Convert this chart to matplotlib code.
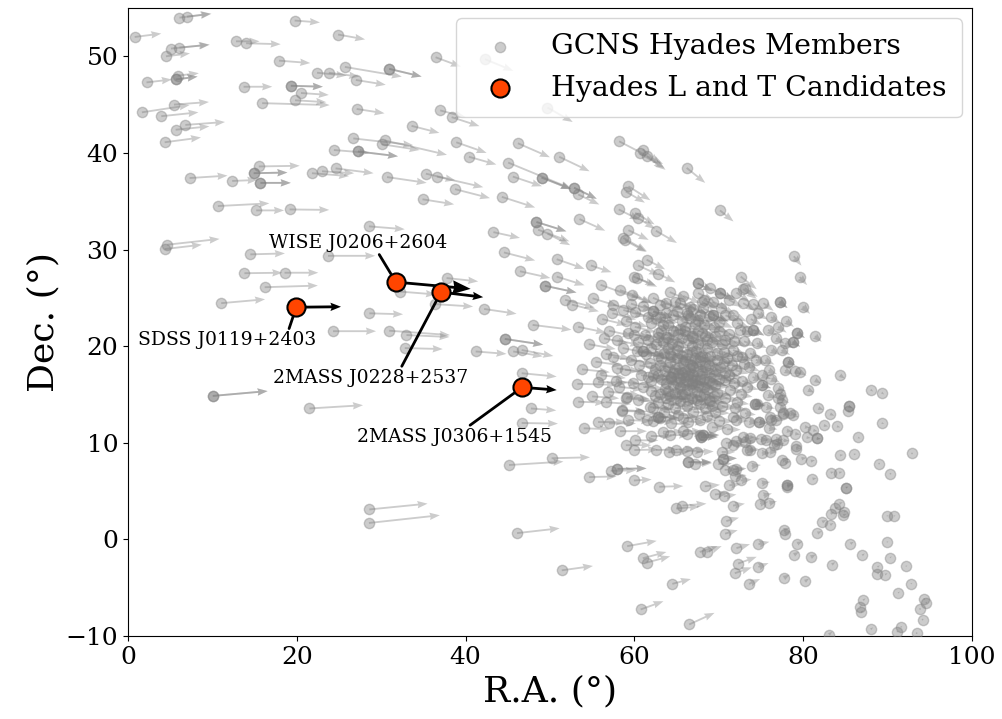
import numpy as np
import matplotlib
matplotlib.use("Agg")
import matplotlib.pyplot as plt

plt.rcParams["font.family"] = ["DejaVu Serif"]

# GCNS Hyades members: (R.A., Dec., dR.A., dDec.) in degrees
members_north = [
    (6.1, 54.0, 3.7, 0.4), (7.0, 54.1, 2.9, 0.3), (19.75, 53.7, 3.0, -0.2), (0.8, 52.0, 3.15, 0.35),
    (24.9, 52.25, 3.2, -0.5), (5.1, 50.8, 4.5, 0.4), (6.1, 50.9, 3.6, 0.3), (12.8, 51.55, 2.8, 0.0),
    (14.0, 51.35, 4.1, -0.1), (4.5, 50.0, 2.85, 0.3), (17.9, 49.55, 3.7, -0.25), (22.4, 48.3, 3.5, -0.3),
    (23.8, 48.3, 3.6, -0.4), (25.7, 48.9, 6.75, -1.0), (2.2, 47.3, 3.0, 0.3), (5.65, 47.6, 2.6, 0.3),
    (5.9, 48.0, 2.5, 0.25), (13.7, 46.85, 3.4, 0.0), (19.3, 46.95, 3.8, -0.1), (20.5, 46.2, 3.3, -0.2),
    (15.9, 45.15, 8.0, -0.2), (19.8, 45.45, 3.7, -0.2), (1.65, 44.2, 5.65, 0.75), (5.45, 45.0, 4.15, 0.27),
    (3.95, 43.8, 4.4, 0.4), (6.8, 42.9, 4.7, 0.3), (5.65, 42.4, 4.0, 0.35), (4.35, 41.1, 4.3, 0.5),
    (26.7, 41.5, 7.1, -0.7), (24.4, 40.3, 4.2, -0.3), (27.25, 40.15, 4.75, -0.5), (15.5, 38.6, 4.85, 0.07),
    (14.9, 37.9, 4.0, 0.07), (15.7, 36.9, 3.6, 0.0), (7.3, 37.4, 4.5, 0.25), (12.35, 37.1, 3.0, 0.1),
    (21.8, 37.9, 4.4, -0.3), (23.0, 38.1, 3.8, -0.2), (24.6, 38.4, 4.5, -0.5), (10.65, 34.5, 6.1, 0.28),
    (15.2, 34.05, 3.3, 0.0), (19.15, 34.15, 4.7, -0.05), (36.45, 49.9, 3.0, -0.97), (42.3, 49.7, 3.35, -1.2),
    (49.7, 44.7, 3.0, -1.5), (30.95, 48.7, 3.85, -0.8), (27.0, 47.55, 3.55, -0.5), (27.1, 44.55, 3.3, -0.45),
    (37.0, 44.4, 3.0, -0.7), (38.35, 43.7, 3.3, -0.93), (33.6, 42.8, 3.3, -0.73), (30.4, 41.3, 7.4, -1.5),
    (30.05, 40.9, 4.5, -0.6), (38.9, 41.1, 3.6, -1.1), (40.4, 39.6, 3.25, -0.8), (46.2, 41.0, 3.8, -1.45),
    (51.1, 39.6, 3.6, -1.5), (45.05, 39.0, 7.5, -2.7), (45.6, 37.55, 3.45, -1.0), (49.0, 37.45, 3.5, -1.2),
    (52.85, 36.4, 2.7, -1.15), (35.3, 37.85, 3.5, -0.7), (36.6, 37.55, 5.5, -1.1), (30.7, 37.5, 4.7, -0.6),
    (38.75, 36.25, 4.15, -0.93), (34.9, 35.2, 3.75, -0.52), (44.3, 35.45, 3.95, -1.1), (4.65, 30.5, 6.2, 0.6),
    (4.35, 30.05, 4.4, 0.45), (28.55, 32.4, 4.25, -0.3), (43.3, 31.8, 3.15, -0.6), (48.4, 32.85, 3.55, -0.97),
    (48.6, 32.05, 3.7, -1.2), (49.7, 31.65, 2.7, -1.2), (53.5, 33.15, 3.05, -1.2), (53.35, 35.7, 2.5, -1.04),
]

members_mid = [
    (14.5, 29.5, 4.1, 0.1), (23.7, 29.35, 5.6, 0.0), (13.8, 27.55, 4.5, 0.05), (18.55, 27.6, 4.0, 0.0),
    (16.2, 26.1, 6.3, 0.17), (11.05, 24.45, 5.2, 0.4), (24.3, 21.55, 5.1, 0.0), (10.05, 14.85, 6.5, 0.5),
    (21.5, 13.55, 6.35, 0.34), (32.2, 25.65, 4.3, -0.3), (37.75, 27.05, 3.75, -0.35), (36.4, 24.35, 4.5, -0.25),
    (42.2, 23.85, 3.85, -0.5), (28.6, 23.4, 4.0, -0.1), (30.95, 21.6, 7.2, -0.45), (33.0, 21.15, 5.1, -0.2),
    (32.8, 19.8, 4.5, -0.1), (44.65, 20.75, 4.55, -0.6), (41.2, 19.45, 3.65, -0.25), (45.65, 19.45, 3.5, -0.5),
    (46.65, 19.6, 3.75, -0.62), (46.65, 17.2, 4.15, -0.35), (47.75, 13.55, 3.0, -0.2), (46.65, 12.05, 4.3, -0.07),
    (44.55, 29.7, 3.7, -0.83), (46.45, 27.75, 3.6, -0.7), (49.4, 26.25, 3.75, -0.7), (50.8, 29.0, 3.3, -1.0),
    (50.8, 27.2, 3.3, -0.9), (51.8, 24.8, 3.5, -0.8), (52.6, 24.3, 3.2, -0.7), (47.95, 22.2, 4.6, -0.5),
    (53.35, 22.0, 3.3, -0.6), (53.35, 14.25, 3.2, -0.1), (28.6, 3.1, 6.9, 0.6), (28.55, 1.7, 8.4, 0.8),
    (45.15, 7.7, 6.45, 0.35), (50.2, 8.4, 4.55, 0.1), (46.1, 0.65, 5.05, 0.5), (51.4, -3.2, 3.7, 0.45),
]

members_upper = [
    (58.2, 41.2, 5.2, -2.35), (61.0, 40.35, 2.0, -1.4), (60.65, 39.95, 2.9, -1.5), (61.5, 39.65, 2.2, -1.4),
    (66.2, 38.45, 2.2, -1.55), (59.3, 36.55, 2.6, -1.45), (59.0, 36.0, 2.25, -1.15), (70.15, 34.05, 1.6, -1.15),
    (58.15, 34.15, 2.5, -1.1), (60.1, 33.8, 2.3, -1.2), (60.45, 33.25, 2.0, -1.1), (62.55, 31.95, 2.5, -1.27),
    (59.3, 32.0, 2.4, -1.0), (58.7, 31.2, 2.8, -1.4), (58.9, 30.95, 2.5, -1.2), (78.9, 29.3, 0.9, -0.97),
    (79.6, 27.15, 0.87, -0.83), (79.95, 24.1, 0.87, -0.76), (81.4, 21.05, 0.8, -0.6), (77.2, 24.6, 0.95, -0.65),
    (72.6, 27.2, 1.9, -1.3), (72.9, 25.9, 1.6, -1.0), (72.1, 25.55, 1.6, -1.0), (54.85, 28.35, 2.45, -0.7),
    (61.45, 28.95, 2.2, -1.0), (60.45, 28.35, 2.5, -1.0), (62.85, 27.5, 2.0, -0.9), (59.9, 27.2, 2.6, -0.9),
    (60.3, 27.05, 2.4, -0.9), (56.0, 26.35, 6.0, -1.9), (58.3, 25.8, 2.6, -0.8), (59.7, 25.3, 2.4, -0.8),
    (55.05, 24.95, 3.0, -0.8), (67.5, 26.5, 1.8, -0.8), (70.15, 25.55, 1.7, -0.8), (67.55, 25.5, 1.9, -0.8),
    (73.1, 26.0, 1.5, -0.9),
]

members_cluster = [
    (57.5, 24.3, 2.8, -0.7), (58.7, 23.75, 2.6, -0.7), (60.05, 23.5, 2.5, -0.7), (62.25, 23.6, 2.3, -0.7),
    (63.75, 24.45, 2.2, -0.7), (65.4, 24.45, 2.0, -0.7), (66.6, 24.1, 2.0, -0.7), (68.15, 23.9, 1.8, -0.7),
    (64.6, 23.25, 2.1, -0.6), (66.6, 22.9, 2.0, -0.6), (67.6, 22.7, 1.9, -0.6), (59.3, 21.35, 2.6, -0.5),
    (60.05, 22.0, 2.5, -0.55), (62.85, 20.9, 2.3, -0.5), (64.0, 20.8, 2.2, -0.5), (61.05, 19.45, 2.5, -0.4),
    (60.3, 19.45, 2.5, -0.4), (57.5, 18.85, 2.9, -0.4), (58.9, 17.55, 2.7, -0.3), (57.9, 17.7, 2.8, -0.3),
    (62.25, 17.0, 2.4, -0.3), (64.4, 16.85, 2.2, -0.3), (61.05, 15.8, 2.5, -0.25), (59.1, 14.75, 2.7, -0.2),
    (60.45, 14.4, 2.6, -0.2), (61.85, 13.7, 2.5, -0.15), (58.5, 13.4, 2.8, -0.15), (59.3, 12.35, 2.7, -0.1),
    (66.2, 10.95, 2.1, 0.0), (67.75, 10.8, 2.0, 0.0), (75.3, 24.45, 1.2, -0.8), (74.1, 24.4, 1.3, -0.8),
    (72.9, 24.45, 1.5, -0.8), (69.35, 24.6, 1.8, -0.8), (68.2, 24.8, 1.9, -0.8), (69.35, 23.25, 1.8, -0.7),
    (71.7, 23.25, 1.6, -0.7), (74.1, 21.7, 1.3, -0.6), (75.85, 21.7, 1.1, -0.6), (77.05, 22.0, 1.0, -0.6),
    (72.5, 21.7, 1.5, -0.6), (70.75, 20.65, 1.6, -0.5), (76.25, 19.6, 1.0, -0.5), (75.5, 18.55, 1.1, -0.45),
    (75.9, 17.5, 1.0, -0.4), (75.1, 17.0, 1.1, -0.4), (76.25, 16.65, 1.0, -0.4), (73.7, 19.25, 1.3, -0.5),
    (72.7, 18.9, 1.4, -0.45), (71.7, 19.6, 1.5, -0.5), (75.1, 16.0, 1.1, -0.35), (77.05, 15.65, 0.9, -0.3),
    (75.85, 14.95, 1.0, -0.3), (74.3, 14.05, 1.2, -0.25), (76.05, 12.7, 1.0, -0.15), (73.1, 13.05, 1.3, -0.15),
    (72.1, 12.35, 1.4, -0.1), (72.9, 10.6, 1.3, -0.05), (75.65, 10.25, 1.0, -0.05), (76.85, 9.9, 0.9, 0.0),
    (68.15, 10.8, 1.9, 0.0), (71.7, 9.75, 1.5, 0.0),
]

# the dense core, where single stars cannot be told apart (hand-placed estimate)
members_core = [
    (63.0, 23.0, 2.2, -0.6), (65.0, 23.6, 2.1, -0.65), (67.0, 23.8, 1.9, -0.65), (68.8, 23.1, 1.8, -0.6),
    (70.3, 24.0, 1.7, -0.7), (62.0, 22.4, 2.3, -0.6), (64.0, 22.2, 2.2, -0.6), (66.0, 22.0, 2.0, -0.55),
    (68.3, 22.2, 1.8, -0.55), (70.0, 22.5, 1.7, -0.6), (61.3, 21.2, 2.4, -0.5), (63.2, 21.6, 2.2, -0.5),
    (65.2, 21.3, 2.1, -0.5), (66.8, 21.0, 2.0, -0.5), (68.0, 21.4, 1.9, -0.5), (69.6, 21.0, 1.7, -0.5),
    (71.2, 21.3, 1.6, -0.55), (73.0, 20.5, 1.4, -0.5), (64.5, 20.3, 2.1, -0.45), (67.5, 20.2, 1.9, -0.45),
    (62.0, 19.8, 2.3, -0.45), (63.5, 19.3, 2.2, -0.4), (65.0, 19.6, 2.1, -0.4), (66.2, 19.2, 2.0, -0.4),
    (67.3, 19.5, 1.9, -0.4), (68.6, 19.8, 1.8, -0.45), (69.8, 19.3, 1.7, -0.4), (71.0, 18.8, 1.6, -0.4),
    (74.5, 20.3, 1.2, -0.5), (66.0, 18.6, 2.0, -0.35), (61.8, 18.3, 2.4, -0.35), (63.0, 18.0, 2.3, -0.35),
    (64.2, 18.4, 2.2, -0.35), (65.3, 17.8, 2.1, -0.35), (66.8, 18.0, 2.0, -0.35), (67.8, 18.5, 1.9, -0.35),
    (68.9, 18.0, 1.8, -0.35), (70.2, 17.8, 1.7, -0.35), (72.0, 17.5, 1.5, -0.35), (73.6, 17.8, 1.3, -0.4),
    (60.8, 17.0, 2.5, -0.3), (63.2, 16.6, 2.3, -0.3), (65.8, 16.8, 2.1, -0.3), (67.0, 17.0, 2.0, -0.3),
    (68.2, 16.6, 1.9, -0.3), (69.4, 17.0, 1.8, -0.3), (70.8, 16.5, 1.6, -0.3), (72.8, 16.4, 1.4, -0.3),
    (74.0, 16.8, 1.3, -0.35), (65.0, 16.2, 2.1, -0.3), (62.0, 15.4, 2.4, -0.25), (63.6, 15.6, 2.3, -0.25),
    (64.8, 15.2, 2.2, -0.25), (66.2, 15.6, 2.0, -0.25), (67.4, 15.3, 1.9, -0.25), (68.6, 15.6, 1.8, -0.25),
    (69.8, 15.2, 1.7, -0.25), (71.3, 15.5, 1.6, -0.25), (72.6, 15.0, 1.4, -0.25), (66.8, 14.6, 2.0, -0.2),
    (62.8, 14.2, 2.4, -0.2), (64.0, 14.0, 2.3, -0.2), (65.4, 14.3, 2.1, -0.2), (67.8, 14.0, 1.9, -0.2),
    (69.0, 14.3, 1.8, -0.2), (70.4, 13.8, 1.7, -0.2), (63.5, 13.2, 2.3, -0.15), (65.2, 12.9, 2.2, -0.15),
    (67.0, 13.2, 2.0, -0.15), (68.6, 12.8, 1.9, -0.1), (70.0, 12.3, 1.7, -0.1), (64.4, 12.0, 2.3, -0.1),
    (66.3, 12.2, 2.1, -0.1), (69.2, 11.6, 1.8, -0.05), (71.0, 11.4, 1.6, -0.05), (63.0, 24.3, 2.2, -0.7),
    (65.8, 25.2, 2.0, -0.75), (64.2, 25.6, 2.1, -0.8), (62.2, 25.0, 2.3, -0.8), (69.0, 26.0, 1.8, -0.8),
    (71.2, 24.8, 1.6, -0.75), (61.0, 24.2, 2.4, -0.75), (59.0, 22.6, 2.6, -0.6), (60.4, 20.4, 2.5, -0.5),
    (59.6, 18.6, 2.6, -0.4), (59.8, 16.2, 2.6, -0.3), (58.2, 15.8, 2.8, -0.3), (60.6, 13.0, 2.6, -0.15),
    (56.4, 20.8, 2.9, -0.5), (55.4, 18.4, 3.1, -0.4), (56.2, 22.8, 2.9, -0.6), (54.6, 20.2, 3.2, -0.5),
    (53.8, 17.6, 3.3, -0.3), (56.6, 14.2, 3.0, -0.2), (55.0, 14.8, 3.2, -0.2), (73.8, 22.8, 1.3, -0.6),
    (74.6, 23.4, 1.2, -0.65), (76.2, 23.0, 1.1, -0.6), (76.8, 20.8, 1.0, -0.55), (78.0, 22.6, 0.9, -0.6),
    (65.6, 20.8, 2.1, -0.5), (67.0, 17.8, 2.0, -0.35), (68.0, 17.2, 1.9, -0.3), (66.4, 16.4, 2.0, -0.3),
    (67.6, 16.0, 1.9, -0.3), (64.6, 17.2, 2.2, -0.3), (69.2, 16.2, 1.8, -0.3), (66.0, 17.4, 2.0, -0.3),
    (68.0, 19.0, 1.9, -0.4), (65.0, 18.8, 2.1, -0.4),
    (62.6, 22.9, 2.3, -0.6), (63.8, 23.4, 2.2, -0.65), (65.6, 22.6, 2.1, -0.6), (67.2, 22.3, 1.9, -0.6),
    (69.4, 22.0, 1.7, -0.55), (61.6, 20.6, 2.4, -0.5), (62.6, 20.2, 2.3, -0.5), (63.8, 20.9, 2.2, -0.5),
    (65.2, 20.0, 2.1, -0.45), (66.4, 20.6, 2.0, -0.5), (68.6, 20.6, 1.8, -0.5), (70.4, 20.2, 1.7, -0.45),
    (71.8, 20.5, 1.5, -0.5), (62.8, 19.0, 2.3, -0.4), (64.2, 19.2, 2.2, -0.4), (65.6, 19.0, 2.1, -0.4),
    (66.8, 19.4, 2.0, -0.4), (67.8, 18.9, 1.9, -0.4), (69.0, 19.0, 1.8, -0.4), (70.6, 19.4, 1.6, -0.45),
    (72.2, 19.0, 1.5, -0.45), (62.4, 17.6, 2.3, -0.35), (63.6, 17.4, 2.2, -0.35), (64.8, 17.6, 2.1, -0.35),
    (65.6, 17.2, 2.1, -0.3), (66.6, 17.6, 2.0, -0.35), (68.4, 17.8, 1.9, -0.35), (69.6, 17.6, 1.7, -0.35),
    (70.8, 17.2, 1.6, -0.3), (71.6, 18.0, 1.5, -0.35), (62.0, 16.4, 2.4, -0.3), (63.8, 16.2, 2.2, -0.3),
    (64.4, 16.6, 2.2, -0.3), (65.4, 15.8, 2.1, -0.25), (66.8, 16.2, 2.0, -0.3), (67.8, 16.6, 1.9, -0.3),
    (68.8, 16.4, 1.8, -0.3), (70.0, 16.6, 1.7, -0.3), (71.8, 16.2, 1.5, -0.3), (63.0, 15.0, 2.3, -0.25),
    (64.2, 14.8, 2.2, -0.2), (65.6, 15.0, 2.1, -0.25), (67.0, 15.8, 2.0, -0.25), (68.2, 15.0, 1.9, -0.25),
    (69.4, 14.8, 1.8, -0.2), (70.8, 14.6, 1.6, -0.2), (66.2, 13.8, 2.0, -0.2), (67.4, 14.4, 1.9, -0.2),
    (68.4, 13.6, 1.8, -0.15), (69.6, 13.2, 1.7, -0.15), (64.8, 13.6, 2.2, -0.15), (62.2, 13.6, 2.4, -0.15),
    (65.8, 12.6, 2.1, -0.1), (67.8, 12.4, 1.9, -0.1), (63.0, 12.6, 2.3, -0.1), (57.0, 21.6, 2.8, -0.55),
    (58.0, 20.6, 2.7, -0.5), (57.4, 23.4, 2.8, -0.65), (58.6, 19.8, 2.7, -0.45), (56.6, 19.2, 2.9, -0.45),
    (57.8, 16.4, 2.8, -0.3), (56.0, 17.0, 3.0, -0.3), (60.0, 21.2, 2.5, -0.5), (61.6, 23.0, 2.4, -0.6),
    (59.6, 24.4, 2.6, -0.7), (66.4, 23.2, 2.0, -0.6), (68.0, 24.6, 1.9, -0.75), (70.8, 23.2, 1.6, -0.65),
    (72.2, 22.4, 1.5, -0.6), (73.4, 21.6, 1.4, -0.55), (73.0, 18.2, 1.4, -0.4), (74.4, 18.6, 1.2, -0.45),
    (73.4, 15.8, 1.3, -0.3), (72.2, 14.2, 1.4, -0.2), (73.6, 12.2, 1.2, -0.1), (66.0, 21.6, 2.0, -0.5),
    (67.0, 20.8, 2.0, -0.5), (64.0, 19.8, 2.2, -0.45), (66.6, 18.2, 2.0, -0.35), (65.4, 16.6, 2.1, -0.3),
    (67.2, 16.4, 1.9, -0.3), (66.0, 15.0, 2.0, -0.25), (64.6, 21.6, 2.1, -0.55), (68.4, 21.0, 1.8, -0.5),
    (63.4, 22.2, 2.2, -0.6),
    (64.4, 19.0, 2.2, -0.4), (65.8, 18.4, 2.1, -0.35), (67.2, 18.8, 1.9, -0.4), (68.4, 18.4, 1.8, -0.35),
    (64.0, 17.8, 2.2, -0.35), (65.2, 17.2, 2.1, -0.3), (66.4, 17.0, 2.0, -0.3), (67.6, 17.4, 1.9, -0.3),
    (68.8, 17.2, 1.8, -0.3), (64.6, 16.0, 2.2, -0.3), (65.8, 16.0, 2.0, -0.3), (67.0, 16.4, 1.9, -0.3),
    (68.2, 15.8, 1.8, -0.25), (69.6, 16.0, 1.7, -0.25), (64.0, 15.4, 2.2, -0.25), (65.0, 14.6, 2.1, -0.2),
    (66.4, 14.4, 2.0, -0.2), (67.8, 14.8, 1.9, -0.2), (68.8, 14.4, 1.8, -0.2), (66.8, 20.0, 2.0, -0.45),
    (65.4, 21.8, 2.1, -0.55), (67.6, 21.6, 1.9, -0.5), (69.2, 20.4, 1.8, -0.45), (63.4, 20.4, 2.2, -0.5),
    (66.2, 23.4, 2.0, -0.6), (64.8, 24.6, 2.1, -0.7), (67.8, 23.2, 1.9, -0.65), (62.8, 21.4, 2.3, -0.5),
    (70.0, 21.6, 1.7, -0.55), (70.6, 18.4, 1.6, -0.4), (69.8, 18.6, 1.7, -0.4), (71.2, 17.0, 1.6, -0.3),
    (63.2, 18.8, 2.3, -0.4), (62.8, 17.0, 2.3, -0.3), (61.6, 16.8, 2.4, -0.3), (61.4, 19.2, 2.4, -0.4),
    (60.6, 18.0, 2.5, -0.35), (62.4, 14.8, 2.4, -0.2), (63.8, 14.6, 2.3, -0.2), (69.2, 13.8, 1.8, -0.15),
]

members_east = [
    (79.3, 21.4, 0.9, -0.55), (78.75, 20.45, 0.9, -0.5), (77.85, 20.3, 1.0, -0.5), (77.45, 19.6, 1.0, -0.5),
    (78.2, 18.4, 0.9, -0.4), (79.0, 17.45, 0.8, -0.4), (79.6, 17.35, 0.8, -0.4), (77.85, 17.5, 0.9, -0.4),
    (81.4, 16.5, 0.7, -0.35), (84.35, 17.0, 0.6, -0.35), (80.6, 15.5, 0.7, -0.3), (88.0, 15.5, 0.3, -0.2),
    (89.3, 15.2, 0.3, -0.2), (77.25, 15.1, 0.9, -0.3), (77.45, 14.4, 0.9, -0.25), (81.8, 13.6, 0.6, -0.2),
    (83.2, 13.0, 0.5, -0.2), (85.4, 13.8, 0.4, -0.2), (85.3, 13.3, 0.4, -0.2), (89.3, 12.05, 0.3, -0.1),
    (77.65, 13.1, 0.8, -0.2), (78.8, 12.85, 0.7, -0.2), (82.45, 11.8, 0.5, -0.1), (84.0, 11.7, 0.4, -0.1),
    (86.5, 10.55, 0.3, -0.1), (78.05, 11.25, 0.7, -0.1), (79.05, 10.95, 0.6, -0.1), (80.2, 11.65, 0.6, -0.1),
    (81.2, 11.3, 0.5, -0.1), (81.6, 10.45, 0.5, -0.05), (80.4, 10.55, 0.5, -0.05), (77.65, 10.25, 0.7, -0.05),
    (79.2, 9.65, 0.6, 0.0), (92.9, 8.9, 0.2, 0.0), (84.35, 8.7, 0.4, 0.05), (86.0, 8.8, 0.3, 0.05),
    (89.0, 7.85, 0.2, 0.05), (90.35, 6.8, 0.2, 0.05), (83.25, 6.9, 0.4, 0.1), (84.25, 6.9, 0.4, 0.1),
    (81.1, 6.25, 0.5, 0.1), (85.05, 5.35, 0.3, 0.1), (79.8, 8.35, 0.6, 0.1), (80.9, 8.1, 0.5, 0.1),
    (79.15, 9.4, 0.6, 0.05), (77.85, 7.95, 0.7, 0.1), (78.1, 5.45, 0.6, 0.15), (84.3, 3.7, 0.4, 0.15),
    (83.8, 3.2, 0.4, 0.15), (83.25, 2.65, 0.4, 0.15), (84.75, 2.5, 0.4, 0.15), (84.85, 2.85, 0.3, 0.15),
    (82.25, 1.8, 0.5, 0.2), (83.2, 1.5, 0.4, 0.2), (81.7, 0.65, 0.5, 0.2), (77.7, 0.95, 0.7, 0.25),
    (77.8, 0.6, 0.7, 0.25), (89.9, 2.4, 0.2, 0.1), (90.75, 2.4, 0.2, 0.1), (89.9, -0.3, 0.2, 0.1),
    (85.6, -0.45, 0.4, 0.2), (79.3, -0.45, 0.6, 0.25), (78.9, -1.6, 0.6, 0.3), (80.9, -1.85, 0.6, 0.3),
    (87.0, -1.65, 0.3, 0.2), (83.4, -2.6, 0.4, 0.25), (90.3, -1.9, 0.2, 0.15), (92.15, -2.8, 0.2, 0.1),
    (88.8, -2.85, 0.3, 0.15), (88.8, -3.55, 0.3, 0.15), (89.7, -3.65, 0.3, 0.15), (77.7, -4.0, 0.7, 0.35),
    (80.2, -4.35, 0.5, 0.3), (92.75, -4.6, 0.2, 0.1), (91.25, -5.55, 0.2, 0.15), (94.35, -6.15, 0.1, 0.1),
    (94.6, -6.55, 0.1, 0.1), (93.85, -7.2, 0.1, 0.1), (94.15, -8.3, 0.1, 0.1), (87.1, -6.3, 0.3, 0.2),
    (86.7, -7.0, 0.3, 0.2), (86.85, -7.55, 0.3, 0.2), (88.0, -9.3, 0.3, 0.2), (91.55, -9.1, 0.2, 0.15),
    (91.1, -9.6, 0.2, 0.15), (93.45, -9.7, 0.1, 0.1), (83.05, -9.85, 0.4, 0.3),
]

members_south = [
    (53.25, 16.1, 4.65, -0.1), (55.7, 16.3, 3.5, -0.1), (56.9, 15.3, 3.75, -0.35), (59.0, 14.6, 3.0, -0.2),
    (58.55, 13.3, 3.0, -0.1), (55.7, 12.15, 3.3, 0.0), (57.0, 12.0, 3.2, 0.0), (54.0, 11.5, 3.1, -0.1),
    (58.3, 11.2, 3.2, 0.0), (60.05, 10.25, 2.8, 0.0), (59.0, 9.75, 3.0, 0.0), (60.0, 9.25, 2.8, 0.05),
    (62.55, 9.25, 2.6, 0.05), (64.1, 9.0, 2.4, 0.05), (64.9, 9.3, 2.3, 0.05), (66.2, 9.15, 2.2, 0.05),
    (67.4, 9.05, 2.0, 0.05), (66.4, 8.0, 2.75, 0.0), (67.2, 7.85, 2.0, 0.05), (70.55, 8.35, 1.6, 0.05),
    (69.95, 7.8, 1.6, 0.05), (70.7, 7.2, 1.5, 0.1), (71.7, 7.2, 1.4, 0.1), (58.0, 7.3, 3.45, 0.05),
    (57.2, 7.1, 3.0, 0.05), (54.65, 6.45, 3.25, 0.07), (59.95, 6.1, 2.1, 0.1), (62.95, 5.45, 2.85, 0.07),
    (68.35, 5.5, 1.8, 0.15), (69.55, 4.65, 1.6, 0.15), (70.6, 4.45, 1.5, 0.2), (71.7, 3.5, 1.4, 0.2),
    (71.25, 5.6, 1.4, 0.15), (71.9, 6.55, 1.4, 0.1), (72.6, 6.1, 1.3, 0.1), (72.0, 7.25, 1.3, 0.1),
    (73.9, 7.6, 1.1, 0.1), (75.1, 5.8, 1.0, 0.15), (75.3, 4.55, 1.0, 0.2), (74.9, 3.7, 1.0, 0.2),
    (76.0, 3.75, 0.9, 0.2), (78.1, 5.6, 0.7, 0.15), (77.55, 8.2, 0.8, 0.1), (70.9, 1.9, 1.5, 0.35),
    (70.75, 0.6, 1.5, 0.35), (64.95, 3.2, 2.8, 0.2), (65.7, 3.5, 2.85, 0.2), (59.15, -0.7, 3.5, 0.55),
    (61.0, -1.95, 2.8, 0.65), (61.45, -2.4, 2.8, 0.65), (67.75, -1.3, 2.1, 0.6), (68.55, -1.3, 1.8, 0.6),
    (72.1, -0.9, 1.6, 0.4), (74.7, -0.5, 1.3, 0.25), (72.3, -2.5, 2.2, 0.7), (71.9, -3.5, 2.0, 0.6),
    (74.7, -2.85, 1.2, 0.4), (73.6, -4.6, 1.3, 0.5), (64.5, -4.6, 2.2, 0.5), (60.75, -7.25, 2.7, 0.85),
    (66.5, -8.8, 3.0, 1.2), (61.45, 12.35, 2.5, -0.1), (62.25, 12.25, 2.5, -0.1), (62.85, 12.7, 2.4, -0.1),
    (63.4, 11.15, 2.4, 0.0), (64.2, 10.8, 2.3, 0.0), (65.8, 11.2, 2.2, 0.0), (67.9, 10.6, 2.0, 0.0),
    (61.95, 10.7, 2.6, 0.0), (73.3, 9.25, 1.2, 0.0), (73.7, 9.3, 1.2, 0.0), (75.1, 8.95, 1.0, 0.0),
    (76.05, 9.05, 0.9, 0.0), (76.75, 10.35, 0.9, -0.05), (76.55, 9.75, 0.9, 0.0), (74.95, 10.35, 1.0, -0.05),
    (70.35, 9.05, 1.6, 0.0), (72.1, 10.2, 1.4, 0.0), (73.1, 10.1, 1.3, 0.0), (73.7, 10.45, 1.2, -0.05),
    (70.85, 10.0, 1.6, 0.0), (74.8, 12.15, 1.1, -0.1), (76.25, 12.4, 1.0, -0.1), (76.8, 12.4, 0.9, -0.1),
    (75.95, 11.5, 1.0, -0.1), (77.65, 12.95, 0.8, -0.15), (78.5, 13.05, 0.8, -0.15), (74.5, 14.05, 1.1, -0.15),
    (75.65, 13.7, 1.0, -0.15), (77.05, 14.6, 0.9, -0.2), (77.25, 13.7, 0.9, -0.2), (71.9, 13.55, 1.5, -0.15),
    (71.7, 12.7, 1.5, -0.1),
]

# members that sit on top of another one (darker spots)
members_pairs = [
    (5.65, 47.6, 2.6, 0.3), (19.3, 46.95, 3.8, -0.1), (27.25, 40.15, 4.75, -0.5), (14.9, 37.9, 4.0, 0.07),
    (15.7, 36.9, 3.6, 0.0), (30.95, 48.7, 3.85, -0.8), (49.0, 37.45, 3.5, -1.2), (52.85, 36.4, 2.7, -1.15),
    (10.05, 14.85, 6.5, 0.5), (44.65, 20.75, 4.55, -0.6), (48.4, 32.85, 3.55, -0.97), (49.4, 26.25, 3.75, -0.7),
    (77.2, 24.6, 0.95, -0.65), (67.5, 26.5, 1.8, -0.8), (70.15, 25.55, 1.7, -0.8), (79.3, 21.4, 0.9, -0.55),
    (78.75, 20.45, 0.9, -0.5), (78.2, 18.4, 0.9, -0.4), (85.4, 13.8, 0.4, -0.2), (81.6, 10.45, 0.5, -0.05),
    (85.05, 5.35, 0.3, 0.1), (66.4, 8.0, 2.75, 0.0), (70.55, 8.35, 1.6, 0.05), (58.0, 7.3, 3.45, 0.05),
    (78.1, 5.6, 0.7, 0.15), (62.85, 12.7, 2.4, -0.1), (67.9, 10.6, 2.0, 0.0), (74.8, 12.15, 1.1, -0.1),
    (62.25, 23.6, 2.3, -0.7), (61.05, 19.45, 2.5, -0.4), (64.4, 16.85, 2.2, -0.3), (69.35, 23.25, 1.8, -0.7),
    (74.1, 21.7, 1.3, -0.6), (75.1, 16.0, 1.1, -0.35), (74.3, 14.05, 1.2, -0.25), (68.15, 10.8, 1.9, 0.0),
]

# L and T candidates
cand_names = ["SDSS J0119+2403", "WISE J0206+2604", "2MASS J0228+2537", "2MASS J0306+1545"]
cand_ra = [19.94, 31.75, 37.09, 46.7]
cand_dec = [24.03, 26.63, 25.59, 15.74]
cand_dra = [5.3, 8.85, 5.0, 4.1]
cand_ddec = [0.05, -0.7, -0.52, -0.28]

# label placement: text centre (data coords) and where the leader line leaves the text box
label_xy = [(11.8, 20.6), (27.25, 30.7), (28.8, 16.7), (38.7, 10.6)]
label_relpos = [(0.84, 1.0), (0.61, 0.0), (0.65, 1.0), (0.56, 1.0)]


def main():
    members = np.array(members_north + members_mid + members_upper + members_cluster
                       + members_core + members_east + members_south + members_pairs)
    ra, dec, dra, ddec = members.T

    fig = plt.figure(figsize=(10.02, 7.19), dpi=100)
    ax = fig.add_axes([0.1277, 0.1154, 0.8423, 0.8735])

    ax.quiver(ra, dec, dra, ddec, angles="xy", scale_units="xy", scale=1,
              color="gray", alpha=0.4, width=0.0022, headwidth=4, headlength=5.5,
              headaxislength=5, zorder=2)
    ax.scatter(ra, dec, s=55, color="gray", alpha=0.4, zorder=3,
               label="GCNS Hyades Members")

    # WISE J0206 has a heavier arrow head than the others
    big = np.array([i == 1 for i in range(len(cand_names))])
    cra, cdec = np.array(cand_ra), np.array(cand_dec)
    cdra, cddec = np.array(cand_dra), np.array(cand_ddec)
    ax.quiver(cra[~big], cdec[~big], cdra[~big], cddec[~big], angles="xy",
              scale_units="xy", scale=1, color="black", width=0.0033,
              headwidth=3, headlength=3.8, headaxislength=3.4, zorder=5)
    ax.quiver(cra[big], cdec[big], cdra[big], cddec[big], angles="xy",
              scale_units="xy", scale=1, color="black", width=0.0033,
              headwidth=5, headlength=6.5, headaxislength=6, zorder=5)

    for name, x, y, (tx, ty), rp in zip(cand_names, cand_ra, cand_dec, label_xy, label_relpos):
        ax.annotate(name, xy=(x, y), xytext=(tx, ty), ha="center", va="center",
                    fontsize=13.5, zorder=4,
                    arrowprops=dict(arrowstyle="-", color="black", lw=2,
                                    relpos=rp, shrinkA=0, shrinkB=0))

    ax.scatter(cand_ra, cand_dec, s=170, color="#ff4500", edgecolor="black",
               linewidth=1.5, zorder=6, label="Hyades L and T Candidates")

    ax.set_xlim(0, 100)
    ax.set_ylim(-10, 55)
    ax.set_xlabel("R.A. (°)", fontsize=26)
    ax.set_ylabel("Dec. (°)", fontsize=26)
    ax.tick_params(labelsize=18)
    ax.legend(loc="upper right", fontsize=20.4, borderaxespad=0.35, borderpad=0.55)

    fig.savefig("out.png", dpi=100)


if __name__ == "__main__":
    main()
